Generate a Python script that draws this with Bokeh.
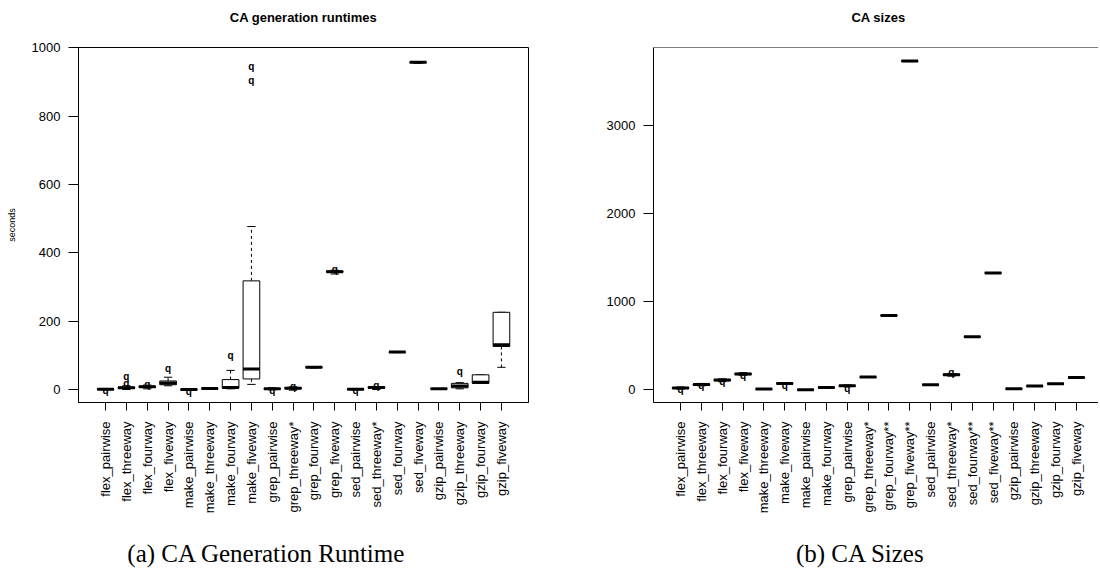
import math
from bokeh.plotting import figure
from bokeh.models import Range1d, FixedTicker, ColumnDataSource, Span
from bokeh.layouts import row, column
from bokeh.embed import file_html
from bokeh.resources import INLINE
from bokeh.core.properties import value

# ---------------- data: CA generation runtimes (seconds) ----------------
runtime_labels = ["flex_pairwise", "flex_threeway", "flex_fourway", "flex_fiveway",
                  "make_pairwise", "make_threeway", "make_fourway", "make_fiveway",
                  "grep_pairwise", "grep_threeway*", "grep_fourway", "grep_fiveway",
                  "sed_pairwise", "sed_threeway*", "sed_fourway", "sed_fiveway",
                  "gzip_pairwise", "gzip_threeway", "gzip_fourway", "gzip_fiveway"]
runtime_low = [-1, 0, 2, 11, -3, 2, 2, 15, -1, -2, 63, 338, -1, 0, 108, 955, 1, 2, 18, 65]
runtime_q1 = [0, 3, 6, 14, -1, 2.5, 4, 31, 1, 2, 64, 343, 0, 4, 109, 956.5, 1.5, 5, 18, 126]
runtime_med = [1, 5, 8, 19, 0, 3, 6, 60, 2, 4, 65, 345, 1, 6, 109.5, 957.5, 2, 10, 21, 131]
runtime_q3 = [2, 7, 10, 25, 1, 3.5, 29, 318, 3, 6, 66, 347, 2, 8, 110, 958.5, 2.5, 18, 43, 226]
runtime_high = [3, 11, 13, 36, 2, 4, 56, 477, 5, 8, 67, 349, 3, 9, 111, 960, 3, 20, 43, 226]
runtime_out = [[-3], [18, 38], [16], [62], [-5], [], [101], [903, 945], [-3], [10], [], [351],
               [-3], [12], [], [], [], [53], [], []]

# ---------------- data: CA sizes ----------------
size_labels = ["flex_pairwise", "flex_threeway", "flex_fourway", "flex_fiveway",
               "make_threeway", "make_fiveway", "make_pairwise", "make_fourway",
               "grep_pairwise", "grep_threeway*", "grep_fourway**", "grep_fiveway**",
               "sed_pairwise", "sed_threeway*", "sed_fourway**", "sed_fiveway**",
               "gzip_pairwise", "gzip_threeway", "gzip_fourway", "gzip_fiveway"]
size_low = [8, 45, 92, 165, 6, 66, -1, 24, 35, 140, 838, 3720, 54, 155, 597, 1321, 9, 40, 66, 137]
size_q1 = [14, 52, 102, 172, 7, 68, -0.5, 25, 40, 142, 840, 3723, 56, 165, 599, 1323, 10, 41, 67, 138]
size_med = [20, 60, 110, 180, 8, 71, 0, 26, 45, 144, 841, 3726, 57, 170, 600, 1325, 11, 42, 68, 139]
size_q3 = [26, 66, 116, 186, 9, 74, 0.5, 27, 50, 146, 842, 3729, 58, 178, 601, 1327, 12, 43, 69, 140]
size_high = [32, 72, 124, 194, 10, 76, 1, 28, 55, 148, 844, 3732, 60, 185, 603, 1329, 13, 44, 70, 141]
size_out = [[2], [45], [90], [160], [], [50], [], [], [20], [], [], [],
            [], [195], [], [], [], [], [], []]

runtime_yticks = [0, 200, 400, 600, 800, 1000]
size_yticks = [0, 1000, 2000, 3000]

titles = ["CA generation runtimes", "CA sizes"]
captions = ["(a) CA Generation Runtime", "(b) CA Sizes"]

SANS = "Liberation Sans"
SERIF = "Liberation Serif"


def draw_box(p, labels, low, q1, med, q3, high, outs):
    xs = list(range(1, len(labels) + 1))
    src = ColumnDataSource(dict(
        x=xs,
        left=[x - 0.4 for x in xs], right=[x + 0.4 for x in xs],
        sl=[x - 0.2 for x in xs], sr=[x + 0.2 for x in xs],
        low=low, q1=q1, med=med, q3=q3, high=high))
    p.segment(x0="x", y0="q3", x1="x", y1="high", source=src,
              line_color="black", line_width=1, line_dash="3 3")
    p.segment(x0="x", y0="q1", x1="x", y1="low", source=src,
              line_color="black", line_width=1, line_dash="3 3")
    p.segment(x0="sl", y0="high", x1="sr", y1="high", source=src,
              line_color="black", line_width=1)
    p.segment(x0="sl", y0="low", x1="sr", y1="low", source=src,
              line_color="black", line_width=1)
    p.quad(left="left", right="right", bottom="q1", top="q3", source=src,
           fill_color="white", line_color="black", line_width=1)
    p.segment(x0="left", y0="med", x1="right", y1="med", source=src,
              line_color="black", line_width=3, line_cap="butt")
    ox, oy = [], []
    for x, o in zip(xs, outs):
        for v in o:
            ox.append(x)
            oy.append(v)
    p.text(x=ox, y=oy, text=["q"] * len(ox), text_font=value(SANS),
           text_font_style="bold", text_font_size="10px",
           text_align="center", text_baseline="middle", text_color="black")
    p.xaxis.ticker = FixedTicker(ticks=xs)
    p.xaxis.major_label_overrides = {x: lab for x, lab in zip(xs, labels)}


def style(p, yticks):
    p.xgrid.visible = False
    p.ygrid.visible = False
    p.background_fill_color = "white"
    p.border_fill_color = "white"
    for ax in (p.xaxis[0], p.yaxis[0]):
        ax.axis_line_color = "black"
        ax.major_tick_line_color = "black"
        ax.minor_tick_line_color = None
        ax.major_tick_in = 0
        ax.major_label_text_font = SANS
        ax.major_label_text_font_size = "13px"
        ax.major_label_text_color = "black"
    p.xaxis.major_tick_out = 8
    p.yaxis.major_tick_out = 10
    p.xaxis.major_label_orientation = math.pi / 2
    p.xaxis.major_label_standoff = 11
    p.yaxis.major_label_standoff = 8
    p.yaxis.ticker = FixedTicker(ticks=yticks)


def text_strip(width, height, text, cx, cy, font, size, style_):
    c = figure(width=width, height=height, output_backend="svg", toolbar_location=None,
               x_range=Range1d(0, width), y_range=Range1d(0, height), min_border=0)
    c.axis.visible = False
    c.grid.visible = False
    c.outline_line_color = None
    c.background_fill_color = "white"
    c.border_fill_color = "white"
    c.text(x=[cx], y=[height - cy], text=[text], text_font=value(font), text_font_size=size,
           text_font_style=style_, text_align="center", text_baseline="middle",
           text_color="black")
    return c


TOP = 40
# ---------------- left chart ----------------
p1 = figure(width=600, height=482, output_backend="svg", toolbar_location=None,
            x_range=Range1d(-0.3, 21.3), y_range=Range1d(-38, 1001),
            min_border_left=78, min_border_right=72, min_border_top=7, min_border_bottom=120)
draw_box(p1, runtime_labels, runtime_low, runtime_q1, runtime_med, runtime_q3, runtime_high, runtime_out)
style(p1, runtime_yticks)
p1.outline_line_color = "black"
p1.outline_line_alpha = 1
p1.yaxis.axis_label = "seconds"
p1.yaxis.axis_label_text_font = SANS
p1.yaxis.axis_label_text_font_size = "9px"
p1.yaxis.axis_label_text_font_style = "normal"
p1.yaxis.axis_label_text_color = "black"
p1.yaxis.axis_label_standoff = 12

# ---------------- right chart ----------------
p2 = figure(width=498, height=482, output_backend="svg", toolbar_location=None,
            x_range=Range1d(-0.3, 21.06), y_range=Range1d(-144, 3880),
            min_border_left=53, min_border_right=0, min_border_top=7, min_border_bottom=120)
draw_box(p2, size_labels, size_low, size_q1, size_med, size_q3, size_high, size_out)
style(p2, size_yticks)
p2.outline_line_color = None
p2.add_layout(Span(location=3880, dimension="width", line_color="black", line_width=1))

t1 = text_strip(600, TOP, titles[0], 303, 17, SANS, "13px", "bold")
t2 = text_strip(498, TOP, titles[1], 278, 17, SANS, "13px", "bold")
c1 = text_strip(600, 52, captions[0], 266, 31, SERIF, "25px", "normal")
c2 = text_strip(498, 52, captions[1], 260, 31, SERIF, "25px", "normal")

layout = column(row(t1, t2), row(p1, p2), row(c1, c2))
open("out.html", "w").write(file_html(layout, INLINE))
